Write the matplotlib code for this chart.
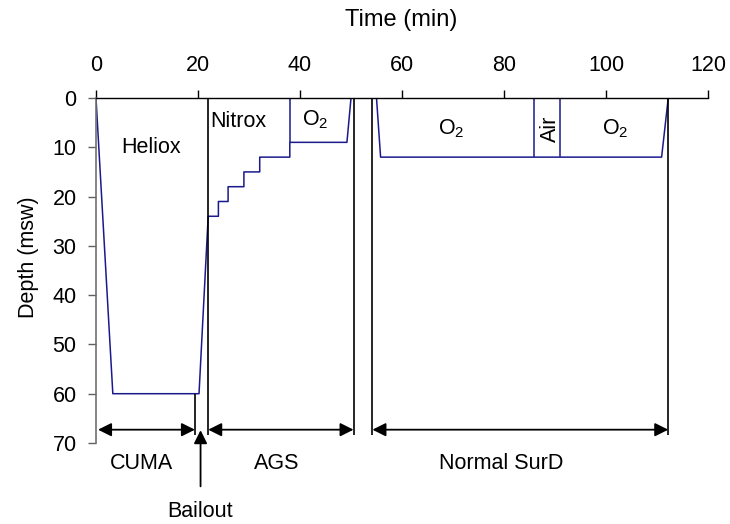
import matplotlib
matplotlib.use('Agg')
import matplotlib.pyplot as plt

plt.rcParams['font.family'] = ['Liberation Sans', 'DejaVu Sans']
plt.rcParams['mathtext.default'] = 'regular'

# dive profile (time in min, depth in msw)
profile_time = [0, 3.3, 20.2, 22, 24, 24, 25.9, 25.9, 29, 29, 32.1, 32.1, 38, 38,
                49.2, 50, 55, 55.8, 110.9, 112.2]
profile_depth = [0, 60, 60, 24, 24, 21, 21, 18, 18, 15, 15, 12, 12, 9,
                 9, 0, 0, 12, 12, 0]

# gas switches (drawn from surface down to the stop depth)
switch_time = [38, 85.9, 91]
switch_depth = [9, 12, 12]

# gas labels
gas_names = ['Heliox', 'Nitrox', 'O$_2$', 'O$_2$', 'Air', 'O$_2$']
gas_x = [10.8, 28, 43, 69.6, 89.2, 101.8]
gas_y = [10, 4.7, 4.5, 6.3, 6.3, 6.3]
gas_rot = [0, 0, 0, 0, 90, 0]

# phases
phase_names = ['CUMA', 'AGS', 'Normal SurD']
phase_start = [0.4, 22, 54.2]
phase_end = [19.4, 50.5, 112.2]
phase_label_x = [9, 35.5, 79.4]

boundary_time = [22, 50.5, 54.2, 112.2]
bailout_time = 19.4
bailout_x = 20.5

fig = plt.figure(figsize=(7.3, 5.24), dpi=100)
ax = fig.add_axes([0.1315, 0.1546, 0.8384, 0.6584])

ax.plot(profile_time, profile_depth, color='#1a1a8c', lw=1.1)
ax.vlines(switch_time, 0, switch_depth, color='#1a1a8c', lw=1.1)

ax.vlines(boundary_time, 0, 68.3, color='black', lw=1.2)
ax.vlines(bailout_time, 60, 68.3, color='black', lw=1.2)

for s, e in zip(phase_start, phase_end):
    ax.annotate('', xy=(e, 67.3), xytext=(s, 67.3),
                arrowprops=dict(arrowstyle='<|-|>', color='black', lw=1.3,
                                mutation_scale=20, shrinkA=0, shrinkB=0))

ax.annotate('', xy=(bailout_x, 67.4), xytext=(bailout_x, 78.8),
            annotation_clip=False,
            arrowprops=dict(arrowstyle='-|>', color='black', lw=1.3,
                            mutation_scale=20, shrinkA=0, shrinkB=0))
ax.text(bailout_x, 84, 'Bailout', ha='center', va='center', fontsize=15.5)

for name, x, y, r in zip(gas_names, gas_x, gas_y, gas_rot):
    ax.text(x, y, name, ha='center', va='center', fontsize=15.5, rotation=r)

for name, x in zip(phase_names, phase_label_x):
    ax.text(x, 74.2, name, ha='center', va='center', fontsize=15.5)

ax.set_xlim(0, 120)
ax.set_ylim(70, 0)
ax.xaxis.tick_top()
ax.xaxis.set_label_position('top')
ax.set_xticks(range(0, 121, 20))
ax.set_yticks(range(0, 71, 10))
ax.set_xlabel('Time (min)', fontsize=17)
ax.set_ylabel('Depth (msw)', fontsize=15.5)
ax.xaxis.set_label_coords(0.498, 1.226)
ax.yaxis.set_label_coords(-0.111, 0.538)
ax.xaxis.label.set_va('center')
ax.yaxis.label.set_va('center')
ax.tick_params(axis='x', labelsize=15.5, length=6, width=1, pad=10)
ax.tick_params(axis='y', labelsize=15.5, length=6, width=1, pad=8, color='#606060')

ax.spines['bottom'].set_visible(False)
ax.spines['right'].set_visible(False)
ax.spines['left'].set_color('#707070')
ax.spines['left'].set_linewidth(1.2)
ax.spines['top'].set_linewidth(1)

fig.savefig('out.png', dpi=100)
